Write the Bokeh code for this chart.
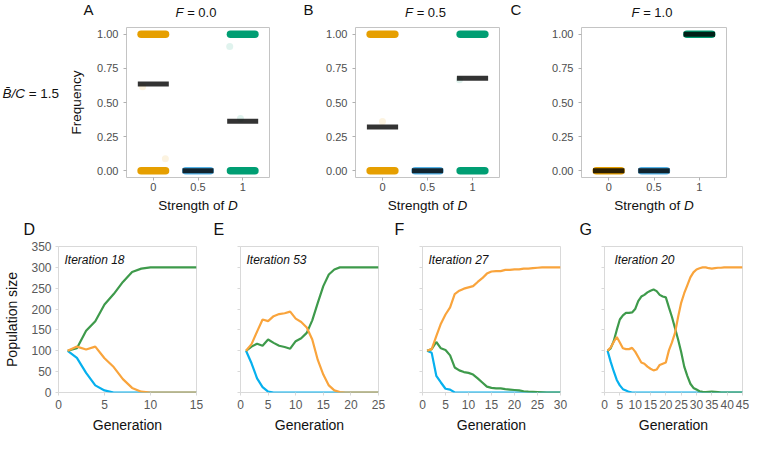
from bokeh.plotting import figure
from bokeh.layouts import column, row
from bokeh.models import Label, FixedTicker, NumeralTickFormatter, Range1d
from bokeh.embed import file_html
from bokeh.resources import INLINE

FONT = "Liberation Sans"

# ---------------- data: top row (frequency of strategies) ----------------
strength_levels = ["0", "0.5", "1"]
F_levels = ["0.0", "0.5", "1.0"]
top_letters = ["A", "B", "C"]
bc_ratio = "1.5"

A_cluster_cat = [0, 0, 1, 2, 2]
A_cluster_val = [1.0, 0.0, 0.0, 1.0, 0.0]
B_cluster_cat = [0, 0, 1, 2, 2]
B_cluster_val = [1.0, 0.0, 0.0, 1.0, 0.0]
C_cluster_cat = [0, 1, 2]
C_cluster_val = [0.0, 0.0, 1.0]

A_mean = [0.635, 0.0, 0.362]
B_mean = [0.32, 0.0, 0.678]
C_mean = [0.0, 0.0, 1.0]

A_out_cat = [0, 0, 2, 2]
A_out_jitter = [-0.24, 0.27, -0.29, -0.05]
A_out_val = [0.615, 0.087, 0.91, 0.383]
B_out_cat = [0, 2]
B_out_jitter = [0.0, -0.29]
B_out_val = [0.36, 0.667]
C_out_cat = []
C_out_jitter = []
C_out_val = []

# ---------------- data: bottom row (population size per generation) ----------------
bottom_letters = ["D", "E", "F", "G"]
iterations = [18, 53, 27, 20]
gen_max = [15, 25, 30, 45]

D_green = [100, 106, 148, 171, 211, 236, 265, 289, 297, 300, 300, 300, 300, 300, 300]
D_orange = [100, 110, 103, 110, 82, 61, 32, 11, 2, 0, 0, 0, 0, 0, 0]
D_blue = [100, 83, 47, 17, 5, 0, 0, 0, 0, 0, 0, 0, 0, 0, 0]

E_green = [100, 110, 117, 112, 127, 119, 112, 109, 105, 123, 130, 143, 173, 215, 255,
           283, 295, 300, 300, 300, 300, 300, 300, 300, 300]
E_orange = [100, 116, 146, 175, 171, 183, 188, 190, 194, 177, 169, 156, 127, 78, 43,
            17, 5, 1, 0, 0, 0, 0, 0, 0, 0]
E_blue = [100, 70, 34, 13, 2, 0, 0, 0, 0, 0, 0, 0, 0, 0, 0,
          0, 0, 0, 0, 0, 0, 0, 0, 0, 0]

F_orange = [100, 104, 135, 165, 187, 204, 236, 244, 249, 252, 255, 265, 274, 285, 290,
            291, 291, 294, 294, 295, 295, 297, 297, 298, 299, 300, 300, 300, 300, 300]
F_green = [100, 104, 121, 106, 102, 89, 60, 53, 49, 47, 43, 34, 24, 14, 11,
           10, 10, 8, 7, 6, 5, 3, 2, 1.5, 1, 0.5, 0, 0, 0, 0]
F_blue = [100, 95, 40, 24, 9, 7, 0, 0, 0, 0, 0, 0, 0, 0, 0,
          0, 0, 0, 0, 0, 0, 0, 0, 0, 0, 0, 0, 0, 0, 0]

G_green = [100, 106, 123, 150, 175, 185, 191, 191, 192, 200, 219, 230, 234, 240, 244,
           247, 243, 234, 230, 228, 204, 181, 154, 127, 97, 62, 40, 21, 11, 7,
           3, 1.5, 1, 1.5, 2, 1.5, 1, 0, 0, 0, 0, 0, 0, 0, 0]
G_orange = [100, 108, 121, 133, 120, 106, 104, 104, 107, 98, 85, 72, 69, 62, 57,
            53, 55, 66, 69, 72, 101, 120, 143, 181, 215, 238, 257, 276, 288, 295,
            298, 300, 300, 298, 297, 298, 299, 299, 300, 300, 300, 300, 300, 300, 300]
G_blue = [100, 74, 51, 30, 17, 8, 5, 1.5, 0, 0, 0, 0, 0, 0, 0,
          0, 0, 0, 0, 0, 0, 0, 0, 0, 0, 0, 0, 0, 0, 0,
          0, 0, 0, 0, 0, 0, 0, 0, 0, 0, 0, 0, 0, 0, 0]

# ---------------- styles ----------------
cat_colors = ["#E69F00", "#56B4E9", "#009E73"]
line_green, line_orange, line_blue = "#3E9A4B", "#F9A43C", "#06B0EE"
TOP_FRAME = "#C4C4C4"
BOT_FRAME = "#D9D9D9"
TEXT = "#111111"


def add_label(p, x, y, text, size, align="left", baseline="top",
              style="normal", color=TEXT):
    p.add_layout(Label(x=x, y=y, text=text, text_font=FONT, text_font_size=size,
                       text_font_style=style, text_align=align,
                       text_baseline=baseline, text_color=color))


def strip(width, height, left, top):
    """Text-only figure whose frame fills its canvas (coords = layout pixels)."""
    p = figure(width=width, height=height, title=None,
               x_range=Range1d(left, left + width),
               y_range=Range1d(top + height, top),
               x_axis_type=None, y_axis_type=None,
               output_backend="svg", toolbar_location=None,
               min_border=0, min_border_left=0, min_border_right=0,
               min_border_top=0, min_border_bottom=0)
    p.grid.visible = False
    p.outline_line_color = None
    return p


# layout geometry (layout pixels, origin top-left)
TITLE_H = 22
TOP_Y0, TOP_H, TOP_TB, TOP_FH = 22, 175, 5, 150
MID_Y0, MID_H = 197, 43
BOT_Y0, BOT_H, BOT_TB, BOT_FH = 240, 196, 6, 146

top_frames = []
bot_frames = []


def top_panel(i, left, width, left_b, right_b,
              ccat, cval, means, ocat, ojit, oval, first=False):
    bot_b = TOP_H - TOP_TB - TOP_FH
    xr, yr = (-0.6, 2.6), (-0.05, 1.05)
    fw = width - left_b - right_b
    top_frames.append((left + left_b, fw))

    p = figure(width=width, height=TOP_H, x_range=xr, y_range=yr, title=None,
               output_backend="svg", toolbar_location=None,
               min_border_left=left_b, min_border_right=right_b,
               min_border_top=TOP_TB, min_border_bottom=bot_b)
    p.grid.visible = False
    p.outline_line_color = TOP_FRAME
    p.outline_line_width = 1
    p.xaxis.ticker = FixedTicker(ticks=[0, 1, 2])
    p.xaxis.major_label_overrides = {k: s for k, s in enumerate(strength_levels)}
    p.yaxis.ticker = FixedTicker(ticks=[0, 0.25, 0.5, 0.75, 1.0])
    p.yaxis.formatter = NumeralTickFormatter(format="0.00")
    for ax in p.axis:
        ax.axis_line_color = None
        ax.major_tick_line_color = "#B0B0B0"
        ax.major_tick_in = 0
        ax.major_tick_out = 3
        ax.minor_tick_line_color = None
        ax.major_label_text_font = FONT
        ax.major_label_text_font_size = "11px"
        ax.major_label_text_color = "#4D4D4D"
    p.xaxis.major_label_standoff = 2
    p.yaxis.major_label_standoff = 5
    if first:
        p.yaxis.axis_label = "Frequency"
        p.yaxis.axis_label_text_font = FONT
        p.yaxis.axis_label_text_font_size = "13.5px"
        p.yaxis.axis_label_text_font_style = "normal"
        p.yaxis.axis_label_text_color = TEXT
        p.yaxis.axis_label_standoff = 10

    # dense clusters of jittered points
    p.segment(x0=[c - 0.274 for c in ccat], x1=[c + 0.274 for c in ccat],
              y0=cval, y1=cval, line_color=[cat_colors[c] for c in ccat],
              line_width=7.5, line_cap="round")
    # sparse faint points
    if ocat:
        p.scatter(x=[c + j for c, j in zip(ocat, ojit)], y=oval, size=7,
                  fill_color=[cat_colors[c] for c in ocat], line_color=None,
                  fill_alpha=0.12)
    # mean bars
    p.segment(x0=[k - 0.347 for k in range(3)], x1=[k + 0.347 for k in range(3)],
              y0=means, y1=means, line_color="black", line_alpha=0.8,
              line_width=5, line_cap="butt")
    return p


def bottom_panel(i, left, width, left_b, right_b, text_dx,
                 green, orange, blue, first=False):
    bot_b = BOT_H - BOT_TB - BOT_FH
    n = gen_max[i]
    xr, yr = (0, n), (0, 350)
    fw = width - left_b - right_b
    fl, ft = left + left_b, BOT_Y0 + BOT_TB
    bot_frames.append((fl, fw))
    X = lambda px: xr[0] + (px - fl) * (xr[1] - xr[0]) / fw
    Y = lambda py: yr[1] - (py - ft) * (yr[1] - yr[0]) / BOT_FH

    p = figure(width=width, height=BOT_H, x_range=xr, y_range=yr, title=None,
               output_backend="svg", toolbar_location=None,
               min_border_left=left_b, min_border_right=right_b,
               min_border_top=BOT_TB, min_border_bottom=bot_b)
    p.grid.visible = False
    p.outline_line_color = BOT_FRAME
    p.outline_line_width = 1
    p.xaxis.ticker = FixedTicker(ticks=list(range(0, n + 1, 5)))
    p.yaxis.ticker = FixedTicker(ticks=list(range(0, 351, 50)))
    for ax in p.axis:
        ax.axis_line_color = None
        ax.major_tick_line_color = BOT_FRAME
        ax.major_tick_in = 0
        ax.major_tick_out = 3
        ax.minor_tick_line_color = None
        ax.major_label_text_font = FONT
        ax.major_label_text_font_size = "12px"
        ax.major_label_text_color = "#595959"
        ax.major_label_standoff = 4
    p.xaxis.axis_label = "Generation"
    p.xaxis.axis_label_text_font = FONT
    p.xaxis.axis_label_text_font_size = "14px"
    p.xaxis.axis_label_text_font_style = "normal"
    p.xaxis.axis_label_text_color = TEXT
    p.xaxis.axis_label_standoff = 5
    if first:
        p.yaxis.axis_label = "Population size"
        p.yaxis.axis_label_text_font = FONT
        p.yaxis.axis_label_text_font_size = "14px"
        p.yaxis.axis_label_text_font_style = "normal"
        p.yaxis.axis_label_text_color = TEXT
        p.yaxis.axis_label_standoff = 8
    else:
        p.yaxis.major_label_text_color = None

    gens = list(range(1, n + 1))
    p.line(gens, blue, line_color=line_blue, line_width=2.2)
    p.line(gens, green, line_color=line_green, line_width=2.2)
    p.line(gens, orange, line_color=line_orange, line_width=2.2)

    add_label(p, X(fl + text_dx), Y(ft + 6), "Iteration %d" % iterations[i], "12px",
              style="italic")
    return p


# ---- top row ----
left_strip = strip(62, TOP_H, 0, TOP_Y0)
add_label(left_strip, 2, 90, "B\u0304/C", "13.5px", style="italic")
add_label(left_strip, 2 + 13.5 * 1.667 + 3.7, 90, "= " + bc_ratio, "13.5px")

pA = top_panel(0, 62, 238, 64, 31, A_cluster_cat, A_cluster_val, A_mean,
               A_out_cat, A_out_jitter, A_out_val, first=True)
pB = top_panel(1, 300, 205, 55, 6, B_cluster_cat, B_cluster_val, B_mean,
               B_out_cat, B_out_jitter, B_out_val)
pC = top_panel(2, 505, 244, 76, 23, C_cluster_cat, C_cluster_val, C_mean,
               C_out_cat, C_out_jitter, C_out_val)

# ---- bottom row ----
pD = bottom_panel(0, 0, 218, 58, 22, 6, D_green, D_orange, D_blue, first=True)
pE = bottom_panel(1, 218, 182, 22, 22, 6, E_green, E_orange, E_blue)
pF = bottom_panel(2, 400, 182, 22, 22, 6, F_green, F_orange, F_blue)
pG = bottom_panel(3, 582, 167, 22, 7, 10, G_green, G_orange, G_blue)

# ---- strip with panel letters and F titles ----
title_strip = strip(749, TITLE_H, 0, 0)
top_letter_dx = [43, 52, 71]
for i, (fl, fw) in enumerate(top_frames):
    add_label(title_strip, fl - top_letter_dx[i], 0, top_letters[i], "15px")
    fc = fl + fw / 2 - 2
    w_total = 13 * (0.611 + 0.278 + 0.584 + 0.278 + 1.39)
    anchor = fc - w_total / 2 + 13 * 0.611
    add_label(title_strip, anchor, 4, "F", "13px", align="right", style="italic")
    add_label(title_strip, anchor + 3.6, 4, "= " + F_levels[i], "13px")

# ---- strip with x titles of top row and letters of bottom row ----
mid_strip = strip(749, MID_H, 0, MID_Y0)
for i, (fl, fw) in enumerate(top_frames):
    sc = fl + fw / 2
    w_s, w_d = 13.5 * 5.17, 13.5 * 0.722
    a2 = sc - (w_s + w_d) / 2 + w_s
    add_label(mid_strip, a2 - 3.7, 197, "Strength of", "13.5px", align="right")
    add_label(mid_strip, a2, 197, "D", "13.5px", style="italic")
bot_letter_dx = [35, 27, 28, 25]
for i, (fl, fw) in enumerate(bot_frames):
    add_label(mid_strip, fl - bot_letter_dx[i], 220, bottom_letters[i], "16px")

layout = column(title_strip,
                row(left_strip, pA, pB, pC),
                mid_strip,
                row(pD, pE, pF, pG))

with open("out.html", "w") as f:
    f.write(file_html(layout, INLINE))
